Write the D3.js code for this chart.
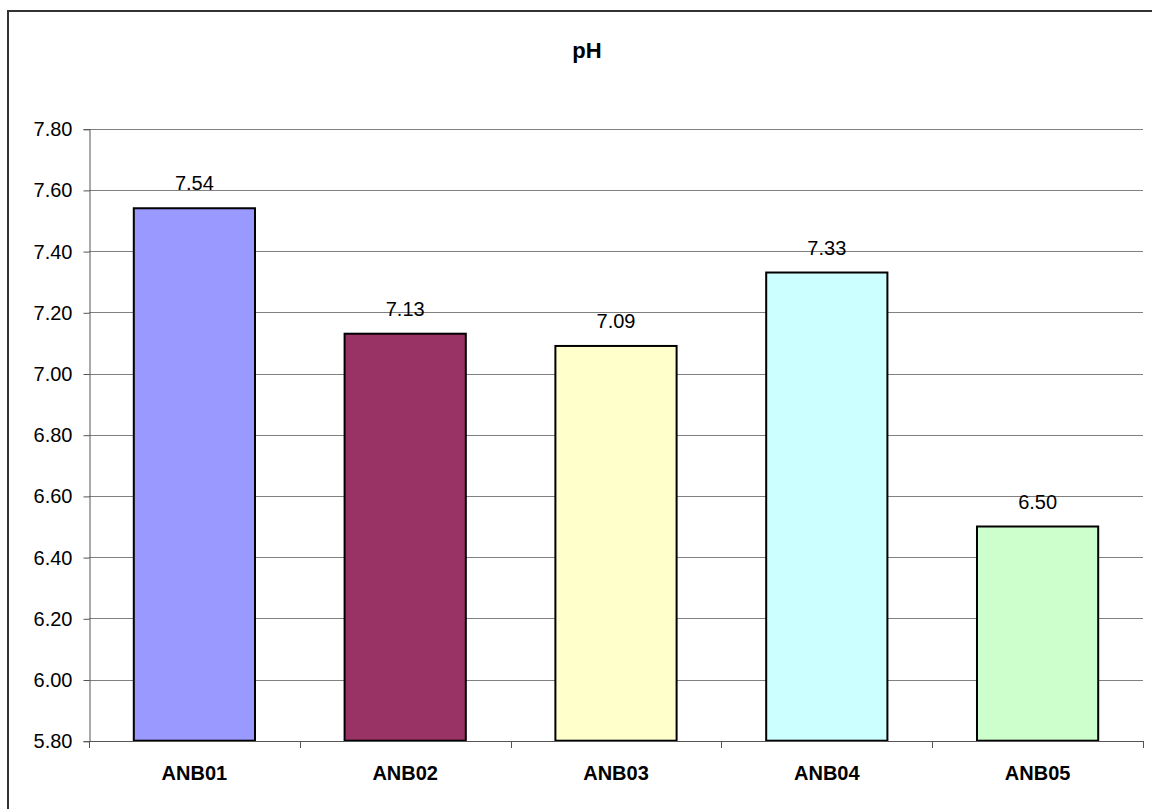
<!DOCTYPE html>
<html>
<head>
<meta charset="utf-8">
<script src="https://cdn.jsdelivr.net/npm/d3@7"></script>
<style>
html,body{margin:0;padding:0;background:#fff;}
svg{display:block;}
</style>
</head>
<body>
<svg id="chart" width="1152" height="809"></svg>
<script>
const categories = ["ANB01","ANB02","ANB03","ANB04","ANB05"];
const values = [7.54, 7.13, 7.09, 7.33, 6.50];
const barColors = ["#9999FF","#993366","#FFFFCC","#CCFFFF","#CCFFCC"];
const yTicks = [5.8,6.0,6.2,6.4,6.6,6.8,7.0,7.2,7.4,7.6,7.8];
const title = "pH";

const svg = d3.select("#chart");
const font = "'Liberation Sans', Arial, sans-serif";

// outer chart border (only top and left are visible in frame)
svg.append("rect").attr("x",8).attr("y",11).attr("width",1160).attr("height",820)
  .attr("fill","#fff").attr("stroke","#333").attr("stroke-width",2);

const L = 89, R = 1143, T = 128.7, B = 740.7;
const x = d3.scaleBand().domain(categories).range([L,R]).paddingInner(0.425).paddingOuter(0.2125);
const y = d3.scaleLinear().domain([5.8,7.8]).range([B,T]);

// gridlines
svg.append("g").selectAll("line").data(yTicks.slice(1)).join("line")
  .attr("x1",L).attr("x2",R)
  .attr("y1",d=>Math.round(y(d))+0.5).attr("y2",d=>Math.round(y(d))+0.5)
  .attr("stroke","#808080").attr("stroke-width",1);

// y axis
const yAxis = d3.axisLeft(y).tickValues(yTicks).tickFormat(d3.format(".2f")).tickSize(6).tickPadding(11);
const gy = svg.append("g").attr("transform",`translate(${L+0.5},0.5)`).call(yAxis);
gy.select(".domain").attr("stroke","#555");
gy.selectAll(".tick line").attr("stroke","#555");
gy.selectAll("text").attr("font-family",font).attr("font-size",20).attr("fill","#000");

// bars
svg.append("g").selectAll("rect").data(values).join("rect")
  .attr("x",(d,i)=>x(categories[i]))
  .attr("y",d=>y(d))
  .attr("width",x.bandwidth())
  .attr("height",d=>y(5.8)-y(d))
  .attr("fill",(d,i)=>barColors[i])
  .attr("stroke","#000").attr("stroke-width",2);

// x axis line and ticks at boundaries
const step = x.step();
svg.append("line").attr("x1",L).attr("x2",R+1).attr("y1",Math.round(B)+0.5).attr("y2",Math.round(B)+0.5)
  .attr("stroke","#555").attr("stroke-width",1);
svg.append("g").selectAll("line").data(d3.range(categories.length+1)).join("line")
  .attr("x1",i=>Math.round(L+i*(R-L)/categories.length)+0.5)
  .attr("x2",i=>Math.round(L+i*(R-L)/categories.length)+0.5)
  .attr("y1",Math.round(B)).attr("y2",Math.round(B)+7)
  .attr("stroke","#555");

// x labels
svg.append("g").selectAll("text").data(categories).join("text")
  .attr("x",d=>x(d)+x.bandwidth()/2).attr("y",780)
  .attr("text-anchor","middle").attr("font-family",font).attr("font-weight","bold").attr("font-size",20)
  .text(d=>d);

// value labels
svg.append("g").selectAll("text").data(values).join("text")
  .attr("x",(d,i)=>x(categories[i])+x.bandwidth()/2).attr("y",d=>y(d)-18)
  .attr("text-anchor","middle").attr("font-family",font).attr("font-size",20)
  .text(d=>d.toFixed(2));

// title
svg.append("text").attr("x",587).attr("y",58).attr("text-anchor","middle")
  .attr("font-family",font).attr("font-weight","bold").attr("font-size",22).text(title);
</script>
</body>
</html>
